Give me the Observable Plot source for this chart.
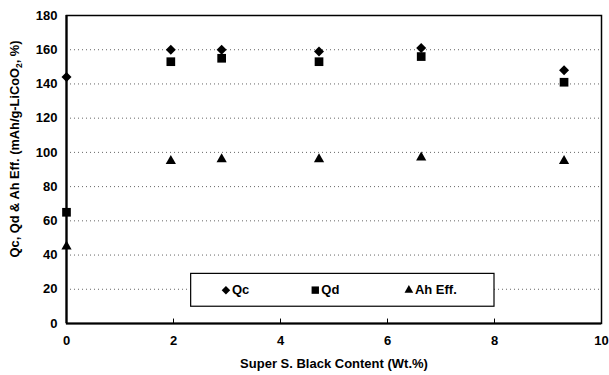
<!DOCTYPE html>
<html>
<head>
<meta charset="utf-8">
<script src="https://cdn.jsdelivr.net/npm/d3@7"></script>
<script src="https://cdn.jsdelivr.net/npm/@observablehq/plot@0.6"></script>
<style>
  html, body { margin: 0; padding: 0; background: #fff; }
  #chart svg { display: block; font-family: "Liberation Sans", Arial, sans-serif; }
</style>
</head>
<body>
<div id="chart"></div>
<script>
// Super S. Black content (wt.%)
const content = [0, 1.95, 2.9, 4.72, 6.63, 9.3];
// Charge capacity (mAh/g)
const qc = [144, 160, 160, 159, 161, 148];
// Discharge capacity (mAh/g)
const qd = [65, 153, 155, 153, 156, 141];
// Ah efficiency (%)
const ahEff = [45, 95, 96, 96, 97, 95];

const xTicks = [0, 2, 4, 6, 8, 10];
const yTicks = [0, 20, 40, 60, 80, 100, 120, 140, 160, 180];

const seriesNames = ["Qc", "Qd", "Ah Eff."];
const seriesSymbols = ["diamond2", "square", "triangle"];
const seriesSizes = [4.5, 4.9, 3.8];
const seriesValues = [qc, qd, ahEff];

// legend box location in data units (inside the plot, near the bottom)
const legendBox = {x1: 2.33, x2: 8.0, y1: 9.8, y2: 29};
const legendX = [2.98, 4.65, 6.4];
const legendY = 19.5;

const seriesMarks = seriesNames.map((name, s) => {
  const pts = content.map((c, i) => ({x: c, y: seriesValues[s][i]}));
  return Plot.dot(pts, {x: "x", y: "y", symbol: seriesSymbols[s], r: seriesSizes[s], fill: "#000", stroke: "none"});
});

const legendMarks = seriesNames.flatMap((name, s) => [
  Plot.dot([{x: legendX[s], y: legendY}], {x: "x", y: "y", symbol: seriesSymbols[s], r: seriesSizes[s] * 0.85, fill: "#000", stroke: "none"}),
  Plot.text([{x: legendX[s], y: legendY, t: name}], {x: "x", y: "y", text: "t", textAnchor: "start", dx: 6, fontSize: 13, fontWeight: "bold", fill: "#000"})
]);

const plot = Plot.plot({
  width: 609,
  height: 375,
  marginLeft: 66,
  marginRight: 8,
  marginTop: 15,
  marginBottom: 52,
  style: {fontFamily: "Liberation Sans, Arial, sans-serif", background: "#fff"},
  x: {domain: [0, 10]},
  y: {domain: [0, 180]},
  marks: [
    // dotted horizontal gridlines
    Plot.ruleY(yTicks.slice(1, -1), {stroke: "#333", strokeWidth: 1, strokeDasharray: "1,3", strokeOpacity: 0.75}),
    // frame
    Plot.frame({stroke: "#000", strokeWidth: 1.5}),
    Plot.ruleX([0], {stroke: "#000", strokeWidth: 2.2}),
    Plot.ruleY([0], {stroke: "#000", strokeWidth: 2.2}),
    // inward x ticks
    Plot.ruleX(xTicks.slice(1, -1), {y1: 0, y2: 2.6, stroke: "#000", strokeWidth: 1}),
    Plot.axisX({ticks: xTicks, tickSize: 0, tickPadding: 12, fontSize: 13, fontWeight: "bold", fill: "#000",
      label: "Super S. Black Content (Wt.%)", labelAnchor: "center", labelOffset: 44, labelArrow: "none"}),
    Plot.axisY({ticks: yTicks, tickSize: 0, tickPadding: 9, fontSize: 13, fontWeight: "bold", fill: "#000",
      label: null}),
    ...seriesMarks,
    // legend
    Plot.rect([legendBox], {x1: "x1", x2: "x2", y1: "y1", y2: "y2", fill: "#fff", stroke: "#000", strokeWidth: 1.2}),
    ...legendMarks
  ]
});

// rotated y-axis title
const svg = d3.select(plot);
const title = svg.append("text")
  .attr("transform", "translate(19,149) rotate(-90)")
  .attr("text-anchor", "middle")
  .attr("font-size", 12.8)
  .attr("font-weight", "bold")
  .attr("fill", "#000");
title.append("tspan").text("Qc, Qd & Ah Eff. (mAh/g-LiCoO");
title.append("tspan").attr("font-size", 8.5).attr("dy", 3).text("2");
title.append("tspan").attr("dy", -3).text(", %)");

document.getElementById("chart").appendChild(plot);
</script>
</body>
</html>
